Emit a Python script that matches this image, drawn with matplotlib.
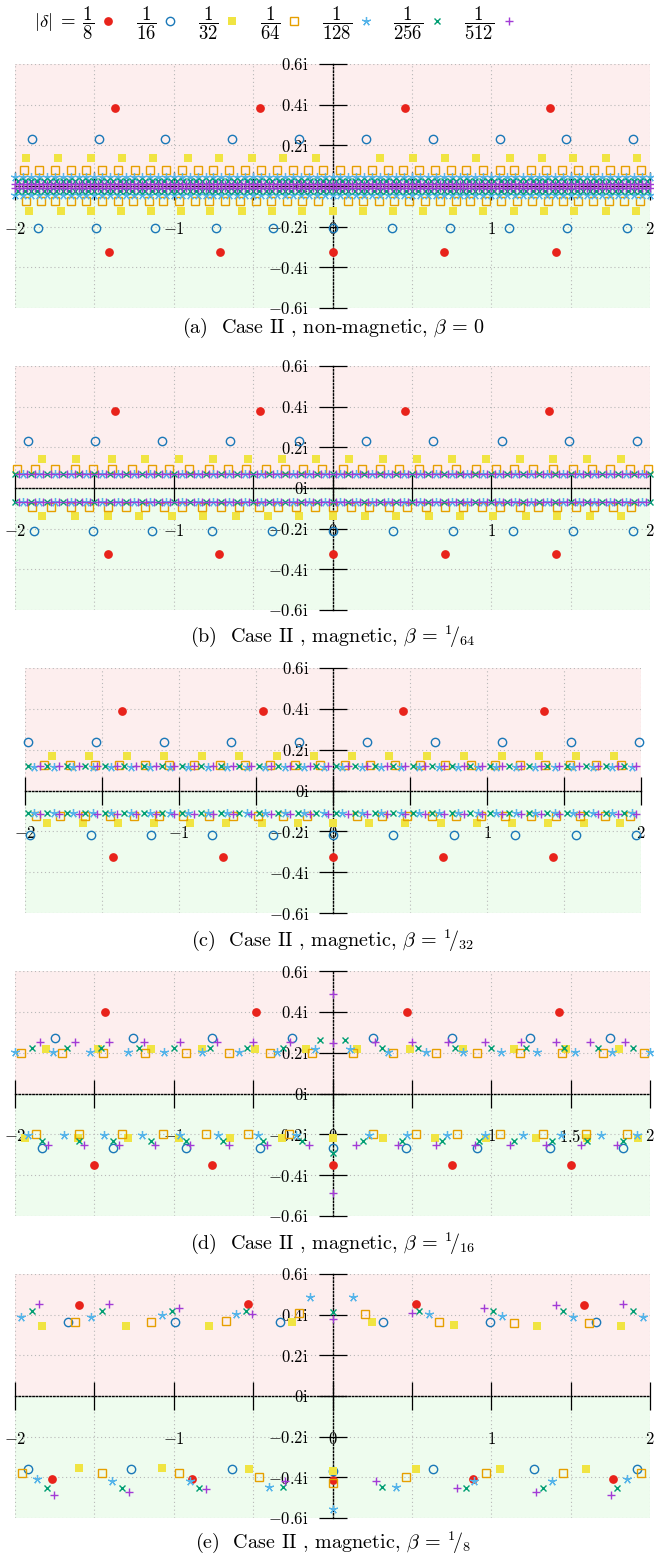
import numpy as np
import matplotlib.pyplot as plt
from matplotlib.lines import Line2D

plt.rcParams['font.family'] = 'serif'
plt.rcParams['font.serif'] = ['cmr10', 'DejaVu Serif']
plt.rcParams['mathtext.fontset'] = 'cm'
plt.rcParams['axes.unicode_minus'] = False


def nums(txt):
    return [float(v) for v in txt.split()]


# ------------------------------------------------------------------ labels
LEGEND_LABELS = [r'$|\delta|\;=\;\dfrac{1}{8}$', r'$\dfrac{1}{16}$', r'$\dfrac{1}{32}$',
                 r'$\dfrac{1}{64}$', r'$\dfrac{1}{128}$', r'$\dfrac{1}{256}$', r'$\dfrac{1}{512}$']
XTICKS = [-2, -1.5, -1, -0.5, 0, 0.5, 1, 1.5, 2]
YTICKS = [-0.6, -0.4, -0.2, 0, 0.2, 0.4, 0.6]
YTICK_LABELS = [r'$-0.6\mathrm{i}$', r'$-0.4\mathrm{i}$', r'$-0.2\mathrm{i}$', r'$0\mathrm{i}$',
                r'$0.2\mathrm{i}$', r'$0.4\mathrm{i}$', r'$0.6\mathrm{i}$']
XTICK_LABELS = [r'$-2$', '', r'$-1$', '', r'$0$', '', r'$1$', '', r'$2$']
XTICK_LABELS_D = [r'$-2$', '', r'$-1$', '', r'$0$', '', r'$1$', r'$1.5$', r'$2$']
CAPTIONS = [r'(a)  Case II , non-magnetic, $\beta\, =\, 0$',
            r'(b)  Case II , magnetic, $\beta\, =\, {}^{1}\!/_{64}$',
            r'(c)  Case II , magnetic, $\beta\, =\, {}^{1}\!/_{32}$',
            r'(d)  Case II , magnetic, $\beta\, =\, {}^{1}\!/_{16}$',
            r'(e)  Case II , magnetic, $\beta\, =\, {}^{1}\!/_{8}$']

# ------------------------------------------------------------------ (a) beta = 0
A8_UP_X = [-1.37, -0.455, 0.455, 1.37]
A8_UP_Y = 0.383
A8_LO_X = [-1.41, -0.71, 0.0, 0.70, 1.41]
A8_LO_Y = -0.326
A16_UP_X = [-1.896, -1.474, -1.052, -0.636, -0.214, 0.208, 0.630, 1.052, 1.468, 1.890]
A16_UP_Y = 0.23
A16_LO_X = [-1.852, -1.487, -1.115, -0.737, -0.372, 0.0, 0.372, 0.743, 1.109, 1.480, 1.852]
A16_LO_Y = -0.208
A32_UP_X = nums("""-1.928 -1.726 -1.524 -1.329 -1.128 -0.913 -0.712 -0.510 -0.309 -0.107
 0.302 0.504 0.706 0.907 1.115 1.317 1.518 1.720 1.921""")
A32_UP_Y = 0.137
A32_LO_X = nums("""-1.909 -1.713 -1.524 -1.335 -1.146 -0.957 -0.769 -0.573 -0.384 -0.195 0.000
 0.189 0.378 0.567 0.762 0.951 1.146 1.335 1.524 1.720 1.909""")
A32_LO_Y = -0.124
A64_UP_X = nums("""-1.946 -1.850 -1.751 -1.650 -1.552 -1.451 -1.350 -1.247 -1.148 -1.050
 -0.951 -0.850 -0.750 -0.649 -0.550 -0.449 -0.351 -0.250 -0.153 -0.057
 0.049 0.149 0.248 0.349 0.444 0.542 0.643 0.748 0.842 0.947
 1.052 1.146 1.252 1.346 1.447 1.545 1.646 1.745 1.844 1.945""")
A64_UP_Y = 0.078
A64_LO_X = nums("""-1.931 -1.838 -1.745 -1.647 -1.550 -1.451 -1.354 -1.258 -1.159 -1.065
 -0.964 -0.869 -0.775 -0.676 -0.580 -0.481 -0.386 -0.288 -0.191 -0.094
 0.096 0.190 0.290 0.386 0.485 0.580 0.679 0.775 0.869 0.968
 1.063 1.161 1.255 1.356 1.450 1.545 1.644 1.740 1.835 1.935""")
A64_LO_Y = -0.075
A128_X = nums("""-2.00 -1.95 -1.90 -1.85 -1.80 -1.75 -1.70 -1.65 -1.60 -1.55
 -1.50 -1.45 -1.40 -1.35 -1.30 -1.25 -1.20 -1.15 -1.10 -1.05
 -1.00 -0.95 -0.90 -0.85 -0.80 -0.75 -0.70 -0.65 -0.60 -0.55
 -0.50 -0.45 -0.40 -0.35 -0.30 -0.25 -0.20 -0.15 -0.10 -0.05
 0.00 0.05 0.10 0.15 0.20 0.25 0.30 0.35 0.40 0.45
 0.50 0.55 0.60 0.65 0.70 0.75 0.80 0.85 0.90 0.95
 1.00 1.05 1.10 1.15 1.20 1.25 1.30 1.35 1.40 1.45
 1.50 1.55 1.60 1.65 1.70 1.75 1.80 1.85 1.90 1.95 2.00""")
A128_UP_Y = 0.042
A128_LO_Y = -0.042
A256_X = nums("""-1.98 -1.94 -1.90 -1.86 -1.82 -1.78 -1.74 -1.70 -1.66 -1.62
 -1.58 -1.54 -1.50 -1.46 -1.42 -1.38 -1.34 -1.30 -1.26 -1.22
 -1.18 -1.14 -1.10 -1.06 -1.02 -0.98 -0.94 -0.90 -0.86 -0.82
 -0.78 -0.74 -0.70 -0.66 -0.62 -0.58 -0.54 -0.50 -0.46 -0.42
 -0.38 -0.34 -0.30 -0.26 -0.22 -0.18 -0.14 -0.10 -0.06 -0.02
 0.02 0.06 0.10 0.14 0.18 0.22 0.26 0.30 0.34 0.38
 0.42 0.46 0.50 0.54 0.58 0.62 0.66 0.70 0.74 0.78
 0.82 0.86 0.90 0.94 0.98 1.02 1.06 1.10 1.14 1.18
 1.22 1.26 1.30 1.34 1.38 1.42 1.46 1.50 1.54 1.58
 1.62 1.66 1.70 1.74 1.78 1.82 1.86 1.90 1.94 1.98""")
A256_UP_Y = 0.025
A256_LO_Y = -0.025
A512_X = nums("""-2.000 -1.975 -1.950 -1.925 -1.900 -1.875 -1.850 -1.825
 -1.800 -1.775 -1.750 -1.725 -1.700 -1.675 -1.650 -1.625
 -1.600 -1.575 -1.550 -1.525 -1.500 -1.475 -1.450 -1.425
 -1.400 -1.375 -1.350 -1.325 -1.300 -1.275 -1.250 -1.225
 -1.200 -1.175 -1.150 -1.125 -1.100 -1.075 -1.050 -1.025
 -1.000 -0.975 -0.950 -0.925 -0.900 -0.875 -0.850 -0.825
 -0.800 -0.775 -0.750 -0.725 -0.700 -0.675 -0.650 -0.625
 -0.600 -0.575 -0.550 -0.525 -0.500 -0.475 -0.450 -0.425
 -0.400 -0.375 -0.350 -0.325 -0.300 -0.275 -0.250 -0.225
 -0.200 -0.175 -0.150 -0.125 -0.100 -0.075 -0.050 -0.025
 0.000 0.025 0.050 0.075 0.100 0.125 0.150 0.175
 0.200 0.225 0.250 0.275 0.300 0.325 0.350 0.375
 0.400 0.425 0.450 0.475 0.500 0.525 0.550 0.575
 0.600 0.625 0.650 0.675 0.700 0.725 0.750 0.775
 0.800 0.825 0.850 0.875 0.900 0.925 0.950 0.975
 1.000 1.025 1.050 1.075 1.100 1.125 1.150 1.175
 1.200 1.225 1.250 1.275 1.300 1.325 1.350 1.375
 1.400 1.425 1.450 1.475 1.500 1.525 1.550 1.575
 1.600 1.625 1.650 1.675 1.700 1.725 1.750 1.775
 1.800 1.825 1.850 1.875 1.900 1.925 1.950 1.975 2.000""")
A512_UP_Y = 0.01
A512_LO_Y = -0.01

# ------------------------------------------------------------------ (b) beta = 1/64
B8_UP_X = [-1.367, -0.454, 0.454, 1.361]
B8_UP_Y = 0.378
B8_LO_X = [-1.417, -0.718, 0.0, 0.706, 1.411]
B8_LO_Y = -0.324
B16_UP_X = [-1.921, -1.493, -1.071, -0.643, -0.214, 0.214, 0.636, 1.065, 1.487, 1.915]
B16_UP_Y = 0.231
B16_LO_X = [-1.883, -1.506, -1.134, -0.756, -0.378, 0.0, 0.378, 0.756, 1.134, 1.512, 1.890]
B16_LO_Y = -0.211
B32_UP_X = nums("""-1.827 -1.613 -1.392 -1.178 -0.964 -0.750 -0.535 -0.315 -0.107
 0.107 0.321 0.535 0.750 0.964 1.178 1.392 1.606 1.820""")
B32_UP_Y = 0.143
B32_LO_X = nums("""-1.827 -1.625 -1.417 -1.216 -1.014 -0.813 -0.611 -0.409 -0.208 0.000
 0.202 0.403 0.605 0.806 1.008 1.216 1.417 1.619 1.820""")
B32_LO_Y = -0.138
B64_UP_X = nums("""-1.990 -1.871 -1.745 -1.625 -1.506 -1.386 -1.260 -1.140 -1.027 -0.907
 -0.781 -0.661 -0.542 -0.422 -0.302 -0.183 -0.063 0.063 0.183 0.302
 0.422 0.542 0.661 0.781 0.907 1.027 1.146 1.266 1.386 1.512
 1.632 1.751 1.871 1.990""")
B64_UP_Y = 0.094
B64_LO_X = nums("""-1.893 -1.774 -1.650 -1.535 -1.416 -1.300 -1.180 -1.063 -0.947 -0.821
 -0.701 -0.586 -0.464 -0.344 -0.229 -0.113 0.000 0.118 0.233 0.353
 0.470 0.586 0.706 0.825 0.943 1.058 1.178 1.293 1.415 1.531
 1.650 1.766 1.882""")
B64_LO_Y = -0.093
B128_X = nums("""-1.95 -1.85 -1.75 -1.65 -1.55 -1.45 -1.35 -1.25 -1.15 -1.05
 -0.95 -0.85 -0.75 -0.65 -0.55 -0.45 -0.35 -0.25 -0.15 -0.05
 0.05 0.15 0.25 0.35 0.45 0.55 0.65 0.75 0.85 0.95
 1.05 1.15 1.25 1.35 1.45 1.55 1.65 1.75 1.85 1.95""")
B128_UP_Y = 0.068
B128_LO_Y = -0.068
B256_X = nums("""-2.00 -1.90 -1.80 -1.70 -1.60 -1.50 -1.40 -1.30 -1.20 -1.10
 -1.00 -0.90 -0.80 -0.70 -0.60 -0.50 -0.40 -0.30 -0.20 -0.10 0.00
 0.10 0.20 0.30 0.40 0.50 0.60 0.70 0.80 0.90 1.00
 1.10 1.20 1.30 1.40 1.50 1.60 1.70 1.80 1.90 2.00""")
B256_UP_Y = 0.068
B256_LO_Y = -0.068
B512_X = nums("""-1.975 -1.925 -1.875 -1.825 -1.775 -1.725 -1.675 -1.625 -1.575 -1.525
 -1.475 -1.425 -1.375 -1.325 -1.275 -1.225 -1.175 -1.125 -1.075 -1.025
 -0.975 -0.925 -0.875 -0.825 -0.775 -0.725 -0.675 -0.625 -0.575 -0.525
 -0.475 -0.425 -0.375 -0.325 -0.275 -0.225 -0.175 -0.125 -0.075 -0.025
 0.025 0.075 0.125 0.175 0.225 0.275 0.325 0.375 0.425 0.475
 0.525 0.575 0.625 0.675 0.725 0.775 0.825 0.875 0.925 0.975
 1.025 1.075 1.125 1.175 1.225 1.275 1.325 1.375 1.425 1.475
 1.525 1.575 1.625 1.675 1.725 1.775 1.825 1.875 1.925 1.975""")
B512_UP_Y = 0.068
B512_LO_Y = -0.068

# ------------------------------------------------------------------ (c) beta = 1/32
C8_UP_X = [-1.37, -0.455, 0.455, 1.37]
C8_UP_Y = 0.387
C8_LO_X = [-1.43, -0.714, 0.0, 0.714, 1.43]
C8_LO_Y = -0.328
C16_UP_X = [-1.98, -1.54, -1.10, -0.662, -0.221, 0.221, 0.662, 1.10, 1.545, 1.987]
C16_UP_Y = 0.24
C16_LO_X = [-1.97, -1.57, -1.18, -0.786, -0.39, 0.0, 0.39, 0.786, 1.18, 1.58, 1.97]
C16_LO_Y = -0.22
C32_UP_X = nums("""-1.825 -1.584 -1.338 -1.097 -0.851 -0.610 -0.364 -0.123
 0.123 0.364 0.610 0.851 1.097 1.338 1.578 1.825""")
C32_UP_Y = 0.167
C32_LO_X = nums("""-1.857 -1.623 -1.396 -1.162 -0.929 -0.695 -0.461 -0.227 0.000
 0.234 0.468 0.701 0.935 1.162 1.396 1.630 1.864""")
C32_LO_Y = -0.157
C64_UP_X = nums("""-1.877 -1.708 -1.545 -1.390 -1.221 -1.065 -0.903 -0.734 -0.571 -0.409 -0.247 -0.084
 0.078 0.240 0.403 0.565 0.727 0.896 1.052 1.214 1.377 1.539 1.708 1.870""")
C64_UP_Y = 0.127
C64_LO_X = nums("""-1.929 -1.773 -1.610 -1.448 -1.292 -1.130 -0.974 -0.805 -0.649 -0.487 -0.325 -0.169
 0.156 0.318 0.481 0.643 0.799 0.961 1.117 1.286 1.448 1.604 1.766 1.929""")
C64_LO_Y = -0.127
C128_X = nums("""-1.94 -1.81 -1.69 -1.56 -1.44 -1.31 -1.19 -1.06 -0.94 -0.81 -0.69 -0.56 -0.44 -0.31 -0.19 -0.06
 0.06 0.19 0.31 0.44 0.56 0.69 0.81 0.94 1.06 1.19 1.31 1.44 1.56 1.69 1.81 1.94""")
C128_UP_Y = 0.115
C128_LO_Y = -0.108
C256_X = nums("""-1.98 -1.86 -1.73 -1.61 -1.48 -1.36 -1.23 -1.11 -0.98 -0.86 -0.73 -0.61 -0.48 -0.36 -0.23 -0.11
 0.02 0.14 0.27 0.39 0.52 0.64 0.77 0.89 1.02 1.14 1.27 1.39 1.52 1.64 1.77 1.89""")
C256_UP_Y = 0.118
C256_LO_Y = -0.112
C512_X = nums("""-1.90 -1.78 -1.65 -1.53 -1.40 -1.28 -1.15 -1.03 -0.90 -0.78 -0.65 -0.53 -0.40 -0.28 -0.15 -0.03
 0.10 0.22 0.35 0.47 0.60 0.72 0.85 0.97 1.10 1.22 1.35 1.47 1.60 1.72 1.85 1.97""")
C512_UP_Y = 0.12
C512_LO_Y = -0.115

# ------------------------------------------------------------------ (d) beta = 1/16
D8_UP_X = [-1.43, -0.479, 0.472, 1.424]
D8_UP_Y = 0.397
D8_LO_X = [-1.505, -0.756, 0.0, 0.750, 1.505]
D8_LO_Y = -0.348
D16_UP_X = [-1.751, -1.254, -0.756, -0.252, 0.252, 0.750, 1.247, 1.751]
D16_UP_Y = 0.27
D16_LO_X = [-1.827, -1.380, -0.920, -0.454, 0.0, 0.460, 0.913, 1.373, 1.827]
D16_LO_Y = -0.265
D32_UP_X = [-1.802, -1.480, -1.146, -0.819, -0.491, -0.164, 0.157, 0.491, 0.819, 1.146, 1.474, 1.802]
D32_UP_Y = 0.216
D32_LO_X = [-1.934, -1.606, -1.291, -0.970, -0.643, -0.321, 0.0, 0.315, 0.643, 0.964, 1.285, 1.606, 1.927]
D32_LO_Y = -0.216
D64_UP_X = [-1.965, -1.707, -1.443, -1.184, -0.920, -0.655, -0.391, -0.126,
            0.126, 0.384, 0.649, 0.913, 1.178, 1.443, 1.701, 1.965]
D64_UP_Y = 0.2
D64_LO_X = [-1.865, -1.594, -1.323, -1.065, -0.794, -0.535, -0.271,
            0.252, 0.523, 0.787, 1.058, 1.323, 1.594, 1.852]
D64_LO_Y = -0.2
D128_UP_X = [-2.00, -1.76, -1.53, -1.29, -1.06, -0.82, -0.59, -0.35, -0.11,
             0.11, 0.35, 0.59, 0.82, 1.06, 1.29, 1.53, 1.76, 2.00]
D128_UP_Y = [0.205, 0.205, 0.205, 0.205, 0.205, 0.205, 0.205, 0.205, 0.22,
             0.22, 0.205, 0.205, 0.205, 0.205, 0.205, 0.205, 0.205, 0.205]
D128_LO_X = [-1.92, -1.69, -1.44, -1.20, -0.96, -0.72, -0.47, -0.23,
             0.23, 0.47, 0.72, 0.96, 1.20, 1.44, 1.69, 1.92]
D128_LO_Y = [-0.205] * 16
D256_UP_X = [-1.89, -1.675, -1.46, -1.22, -1.00, -0.77, -0.54, -0.31, -0.076,
             0.076, 0.31, 0.54, 0.77, 1.00, 1.22, 1.46, 1.675, 1.89]
D256_UP_Y = [0.225, 0.225, 0.225, 0.225, 0.225, 0.225, 0.225, 0.225, 0.262,
             0.262, 0.225, 0.225, 0.225, 0.225, 0.225, 0.225, 0.225, 0.225]
D256_LO_X = [-1.827, -1.60, -1.38, -1.146, -0.92, -0.687, -0.44, -0.195, 0.0,
             0.195, 0.44, 0.687, 0.92, 1.146, 1.38, 1.60, 1.827]
D256_LO_Y = [-0.232, -0.232, -0.232, -0.232, -0.232, -0.232, -0.232, -0.232, -0.29,
             -0.232, -0.232, -0.232, -0.232, -0.232, -0.232, -0.232, -0.232]
D512_UP_X = [-1.84, -1.62, -1.41, -1.19, -0.96, -0.73, -0.50, -0.265, 0.0, 0.0,
             0.265, 0.50, 0.73, 0.96, 1.19, 1.41, 1.62, 1.84]
D512_UP_Y = [0.25, 0.25, 0.25, 0.25, 0.25, 0.25, 0.25, 0.25, 0.245, 0.485,
             0.25, 0.25, 0.25, 0.25, 0.25, 0.25, 0.25, 0.25]
D512_LO_X = [-1.795, -1.568, -1.348, -1.115, -0.895, -0.655, -0.41, -0.145, 0.0,
             0.145, 0.41, 0.655, 0.895, 1.115, 1.348, 1.568, 1.795]
D512_LO_Y = [-0.25, -0.25, -0.25, -0.25, -0.25, -0.25, -0.25, -0.25, -0.485,
             -0.25, -0.25, -0.25, -0.25, -0.25, -0.25, -0.25, -0.25]

# ------------------------------------------------------------------ (e) beta = 1/8
E8_UP_X = [-1.594, -0.535, 0.529, 1.587]
E8_UP_Y = [0.446, 0.451, 0.451, 0.446]
E8_LO_X = [-1.770, -0.882, 0.0, 0.882, 1.764]
E8_LO_Y = [-0.407, -0.407, -0.412, -0.407, -0.407]
E16_UP_X = [-1.663, -0.989, -0.328, 0.321, 0.989, 1.657]
E16_UP_Y = [0.363, 0.363, 0.363, 0.363, 0.363, 0.363]
E16_LO_X = [-1.921, -1.272, -0.636, 0.0, 0.630, 1.272, 1.915]
E16_LO_Y = [-0.36, -0.36, -0.36, -0.37, -0.36, -0.36, -0.36]
E32_UP_X = [-1.827, -1.298, -0.775, -0.252, 0.246, 0.768, 1.291, 1.820]
E32_UP_Y = [0.343, 0.343, 0.343, 0.363, 0.363, 0.348, 0.343, 0.343]
E32_LO_X = [-1.600, -1.071, -0.523, 0.0, 0.523, 1.058, 1.594]
E32_LO_Y = [-0.355, -0.355, -0.36, -0.37, -0.358, -0.358, -0.358]
E64_UP_X = [-1.619, -1.146, -0.674, -0.208, 0.202, 0.674, 1.146, 1.613]
E64_UP_Y = [0.363, 0.363, 0.368, 0.407, 0.402, 0.363, 0.358, 0.358]
E64_LO_X = [-1.953, -1.455, -0.964, -0.460, 0.0, 0.460, 0.964, 1.455, 1.946]
E64_LO_Y = [-0.377, -0.377, -0.377, -0.397, -0.43, -0.397, -0.377, -0.377, -0.377]
E128_UP_X = [-1.965, -1.524, -1.071, -0.611, -0.139, 0.132, 0.605, 1.065, 1.512, 1.959]
E128_UP_Y = [0.387, 0.387, 0.397, 0.402, 0.485, 0.485, 0.402, 0.392, 0.387, 0.387]
E128_LO_X = [-1.864, -1.386, -0.900, -0.403, 0.0, 0.397, 0.894, 1.380, 1.852]
E128_LO_Y = [-0.41, -0.417, -0.42, -0.446, -0.554, -0.446, -0.417, -0.417, -0.41]
E256_UP_X = [-1.896, -1.455, -1.008, -0.542, 0.0, 0.542, 1.008, 1.455, 1.890]
E256_UP_Y = [0.42, 0.42, 0.42, 0.417, 0.412, 0.417, 0.42, 0.42, 0.42]
E256_LO_X = [-1.801, -1.323, -0.844, -0.309, 0.309, 0.838, 1.323, 1.795]
E256_LO_Y = [-0.45, -0.45, -0.45, -0.446, -0.446, -0.45, -0.45, -0.45]
E512_UP_X = [-1.846, -1.411, -0.964, -0.504, 0.0, 0.498, 0.957, 1.405, 1.833]
E512_UP_Y = [0.451, 0.451, 0.431, 0.402, 0.377, 0.407, 0.431, 0.446, 0.451]
E512_LO_X = [-1.757, -1.285, -0.794, -0.302, 0.277, 0.787, 1.279, 1.757]
E512_LO_Y = [-0.485, -0.47, -0.456, -0.417, -0.417, -0.451, -0.47, -0.485]

# ------------------------------------------------------------------ tables
PANELS = [
    [(A8_UP_X, A8_UP_Y, A8_LO_X, A8_LO_Y), (A16_UP_X, A16_UP_Y, A16_LO_X, A16_LO_Y),
     (A32_UP_X, A32_UP_Y, A32_LO_X, A32_LO_Y), (A64_UP_X, A64_UP_Y, A64_LO_X, A64_LO_Y),
     (A128_X, A128_UP_Y, A128_X, A128_LO_Y), (A256_X, A256_UP_Y, A256_X, A256_LO_Y),
     (A512_X, A512_UP_Y, A512_X, A512_LO_Y)],
    [(B8_UP_X, B8_UP_Y, B8_LO_X, B8_LO_Y), (B16_UP_X, B16_UP_Y, B16_LO_X, B16_LO_Y),
     (B32_UP_X, B32_UP_Y, B32_LO_X, B32_LO_Y), (B64_UP_X, B64_UP_Y, B64_LO_X, B64_LO_Y),
     (B128_X, B128_UP_Y, B128_X, B128_LO_Y), (B256_X, B256_UP_Y, B256_X, B256_LO_Y),
     (B512_X, B512_UP_Y, B512_X, B512_LO_Y)],
    [(C8_UP_X, C8_UP_Y, C8_LO_X, C8_LO_Y), (C16_UP_X, C16_UP_Y, C16_LO_X, C16_LO_Y),
     (C32_UP_X, C32_UP_Y, C32_LO_X, C32_LO_Y), (C64_UP_X, C64_UP_Y, C64_LO_X, C64_LO_Y),
     (C128_X, C128_UP_Y, C128_X, C128_LO_Y), (C256_X, C256_UP_Y, C256_X, C256_LO_Y),
     (C512_X, C512_UP_Y, C512_X, C512_LO_Y)],
    [(D8_UP_X, D8_UP_Y, D8_LO_X, D8_LO_Y), (D16_UP_X, D16_UP_Y, D16_LO_X, D16_LO_Y),
     (D32_UP_X, D32_UP_Y, D32_LO_X, D32_LO_Y), (D64_UP_X, D64_UP_Y, D64_LO_X, D64_LO_Y),
     (D128_UP_X, D128_UP_Y, D128_LO_X, D128_LO_Y), (D256_UP_X, D256_UP_Y, D256_LO_X, D256_LO_Y),
     (D512_UP_X, D512_UP_Y, D512_LO_X, D512_LO_Y)],
    [(E8_UP_X, E8_UP_Y, E8_LO_X, E8_LO_Y), (E16_UP_X, E16_UP_Y, E16_LO_X, E16_LO_Y),
     (E32_UP_X, E32_UP_Y, E32_LO_X, E32_LO_Y), (E64_UP_X, E64_UP_Y, E64_LO_X, E64_LO_Y),
     (E128_UP_X, E128_UP_Y, E128_LO_X, E128_LO_Y), (E256_UP_X, E256_UP_Y, E256_LO_X, E256_LO_Y),
     (E512_UP_X, E512_UP_Y, E512_LO_X, E512_LO_Y)],
]

STYLES = [
    dict(marker='o', ms=6.3, mfc='#E8231B', mec='#E8231B', mew=0),
    dict(marker='o', ms=6.0, mfc='none', mec='#1A78B8', mew=1.0),
    dict(marker='s', ms=5.6, mfc='#F0E442', mec='#F0E442', mew=0),
    dict(marker='s', ms=6.0, mfc='none', mec='#E69F00', mew=1.0),
    dict(marker=(5, 2, 0), ms=6.5, color='#56B4E9', mew=0.9),
    dict(marker='x', ms=4.8, color='#009E73', mew=1.0),
    dict(marker='+', ms=6.0, color='#A23BD6', mew=1.0),
]

W, H = 654, 1556
# axes boxes in pixels: left, top, right, bottom
BOXES = [(15, 64, 650, 308), (15, 366, 650, 610), (25, 668, 641, 913),
         (15, 971, 650, 1216), (15, 1274, 650, 1518)]
CAPTION_Y = [328, 636, 940, 1243, 1542]


def yvals(y, x):
    if np.isscalar(y):
        return np.full(len(x), y)
    return np.asarray(y)


def setup(ax, xlabels):
    ax.set_xlim(-2, 2)
    ax.set_ylim(-0.6, 0.6)
    ax.set_axisbelow(True)
    ax.axhspan(0, 0.6, color='#fdeeee', lw=0, zorder=0)
    ax.axhspan(-0.6, 0, color='#eefcee', lw=0, zorder=0)
    ax.grid(True, color='#b8b8b8', linestyle=(0, (1, 2.5)), linewidth=0.8)
    ax.spines['top'].set_visible(False)
    ax.spines['right'].set_visible(False)
    for side in ('left', 'bottom'):
        ax.spines[side].set_position(('data', 0))
        ax.spines[side].set_linestyle((0, (1, 1.5)))
        ax.spines[side].set_linewidth(1.0)
    ax.set_xticks(XTICKS, xlabels)
    ax.set_yticks(YTICKS, YTICK_LABELS)
    ax.tick_params(direction='inout', length=20, width=0.9, labelsize=12)
    ax.tick_params(axis='x', pad=15)
    ax.tick_params(axis='y', pad=7)


fig = plt.figure(figsize=(W / 100, H / 100), dpi=100)

for k, (panel, box) in enumerate(zip(PANELS, BOXES)):
    l, t, r, b = box
    ax = fig.add_axes([l / W, 1 - b / H, (r - l) / W, (b - t) / H])
    setup(ax, XTICK_LABELS_D if k == 3 else XTICK_LABELS)
    for i, (ux, uy, lx, ly) in enumerate(panel):
        st = STYLES[i]
        ax.plot(ux, yvals(uy, ux), linestyle='none', clip_on=False, zorder=3 + i, **st)
        ax.plot(lx, yvals(ly, lx), linestyle='none', clip_on=False, zorder=3 + i, **st)
    fig.text(333 / W, 1 - CAPTION_Y[k] / H, CAPTIONS[k], ha='center', va='center', fontsize=14.5)

handles = [Line2D([], [], linestyle='none', **st) for st in STYLES]
fig.legend(handles, LEGEND_LABELS, loc='center left', bbox_to_anchor=(34 / W, 1 - 23 / H),
           ncol=7, frameon=False, markerfirst=False, fontsize=13.5, handlelength=0.7,
           handletextpad=0.4, columnspacing=1.1, borderaxespad=0, borderpad=0)

fig.savefig('out.png', dpi=100)
